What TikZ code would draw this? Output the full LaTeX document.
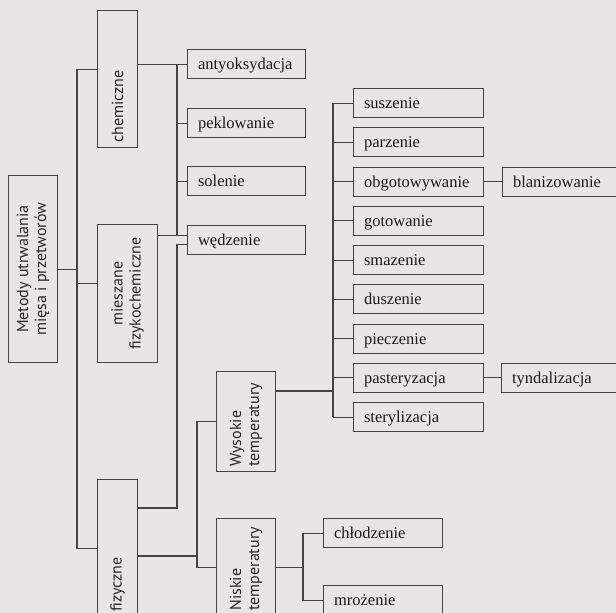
\documentclass[tikz,border=0pt]{standalone}
\usepackage{fontspec}
\setmainfont{Liberation Serif}
\newfontfamily\labelfont{PT Sans}
\usepackage{graphicx}

\definecolor{paper}{RGB}{232,230,227}
\definecolor{ink}{RGB}{68,68,66}

% rotated label inside a box: width of the (unrotated) parbox, alignment, text
\newcommand{\rotlabel}[3]{\rotatebox{90}{\parbox{#1}{#2#3}}}

\tikzset{
  box/.style={draw=ink, fill=paper, line width=1.1pt, inner sep=5pt, anchor=north west},
  vbox/.style={box, text=black!85, font=\labelfont\fontsize{16}{18}\selectfont},
  leaf/.style={box, text width=#1, align=left, inner xsep=10.5pt, inner ysep=0pt,
    minimum height=29pt, text height=13pt, text depth=2pt, text=black!90,
    font=\fontsize{16.5}{19}\selectfont, execute at begin node={\hyphenpenalty=10000 }},
  link/.style={draw=ink, line width=1.1pt}
}

\begin{document}
\begin{tikzpicture}[x=1pt,y=-1pt]
  \useasboundingbox (0,0) rectangle (616,613);
  \fill[paper] (0,0) rectangle (616,613);
  \clip (0,0) rectangle (616,613);

  % main groups
  \node[vbox, minimum width=49pt] (root) at (8,175) {\rotlabel{177pt}{\centering}{Metody utrwalania\\mięsa i przetworów}};
  \node[vbox, minimum width=40pt] (chem) at (97,10) {\rotlabel{127pt}{\raggedright}{chemiczne}};
  \node[vbox, minimum width=60pt] (mix) at (97,224) {\rotlabel{128pt}{\centering}{mieszane\\fizykochemiczne}};
  \node[vbox, minimum width=40pt] (fiz) at (97,479) {\rotlabel{127pt}{\raggedright}{fizyczne}};
  \node[vbox, minimum width=59pt] (wys) at (216,371) {\rotlabel{90pt}{\raggedright}{Wysokie\\temperatury}};
  \node[vbox, minimum width=59pt] (nisk) at (216,518) {\rotlabel{87pt}{\raggedright}{Niskie\\temperatury}};

  % chemiczne and mieszane
  \node[leaf=97pt] (anty) at (187,49) {antyoksydacja};
  \node[leaf=97pt] (pekl) at (187,108) {peklowanie};
  \node[leaf=97pt] (sol) at (187,166) {solenie};
  \node[leaf=97pt] (wedz) at (187,225) {wędzenie};

  % wysokie temperatury
  \foreach \n/\t [count=\i from 0] in {susz/suszenie,parz/parzenie,obgot/obgotowywanie,
      gotow/gotowanie,smaz/smazenie,dusz/duszenie,piecz/pieczenie,
      paster/pasteryzacja,steryl/sterylizacja}
    \node[leaf=109pt] (\n) at (353,{88+39.25*\i}) {\t};
  \node[leaf=109pt] (blan) at (502,166.5) {blanizowanie};
  \node[leaf=109pt] (tynd) at (501,362.75) {tyndalizacja};

  % niskie temperatury
  \node[leaf=98pt] (chlod) at (323,518) {chłodzenie};
  \node[leaf=98pt] (mroz) at (323,585) {mrożenie};

  % buses
  \coordinate (b1) at (77,0);
  \coordinate (b2) at (177,0);
  \coordinate (b3) at (197,0);
  \coordinate (b4) at (333,0);
  \coordinate (b5) at (303,0);
  \coordinate (chemin) at ([yshift=10pt]chem.west);
  \coordinate (mixin) at ([yshift=10pt]mix.west);
  \coordinate (mixout) at ([yshift=5pt]wedz.west);
  \coordinate (fizout) at ([yshift=-4pt]wedz.west);
  \coordinate (fizup) at ([yshift=-29pt]fiz.north east);
  \coordinate (fizdown) at ([yshift=-77pt]fiz.north east);
  \coordinate (wysout) at ([yshift=-20pt]wys.north east);

  \draw[link] (root.east) -- (root.east -| b1);
  \draw[link] (chemin) -- (chemin -| b1) -- (b1 |- fiz.west) -- (fiz.west);
  \draw[link] (mixin) -- (mixin -| b1);

  \draw[link] (chem.east |- anty.west) -- (anty.west);
  \draw[link] (b2 |- anty.west) -- (b2 |- mixout) -- (mixout);
  \draw[link] (mix.east |- mixout) -- (mixout);
  \foreach \n in {pekl,sol}
    \draw[link] (b2 |- \n.west) -- (\n.west);
  \draw[link] (fizout) -- (b2 |- fizout) -- (b2 |- fizup) -- (fizup);

  \draw[link] (fizdown) -- (fizdown -| b3);
  \draw[link] (wys.west) -- (wys.west -| b3) -- (b3 |- nisk.west) -- (nisk.west);

  \draw[link] (wysout) -- (wysout -| b4);
  \draw[link] (b4 |- susz.west) -- (b4 |- steryl.west);
  \foreach \n in {susz,parz,obgot,gotow,smaz,dusz,piecz,paster,steryl}
    \draw[link] (b4 |- \n.west) -- (\n.west);
  \draw[link] (obgot.east) -- (blan.west);
  \draw[link] (paster.east) -- (tynd.west);

  \draw[link] (nisk.east) -- (nisk.east -| b5);
  \draw[link] (chlod.west) -- (chlod.west -| b5) -- (b5 |- mroz.west) -- (mroz.west);
\end{tikzpicture}
\end{document}
